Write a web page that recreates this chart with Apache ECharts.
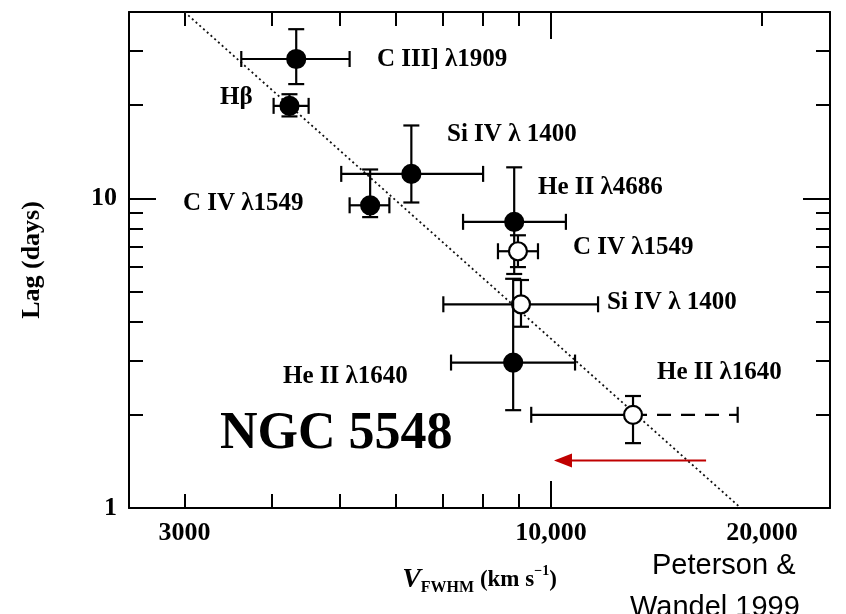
<!DOCTYPE html>
<html><head><meta charset="utf-8">
<script src="https://cdn.jsdelivr.net/npm/echarts@6/dist/echarts.min.js"></script>
<style>html,body{margin:0;padding:0;background:#fff}#c{width:846px;height:614px}</style>
</head><body><div id="c"></div>
<script>
// ---- data ----
const lineNames = ['C III] λ1909', 'Hβ', 'Si IV λ 1400', 'C IV λ1549', 'He II λ4686', 'C IV λ1549', 'Si IV λ 1400', 'He II λ1640', 'He II λ1640'];
const vFWHM   = [4330, 4235, 6320, 5520, 8860, 8970, 9060, 8830, 13090];
const vLow    = [3615, 4020, 5020, 5160, 7490, 8400, 7020, 7200, 9370];
const vHigh   = [5160, 4510, 8000, 5880, 10500, 9580, 11670, 10820, 18460];
const lag     = [28.2, 19.9, 12.0, 9.5, 8.4, 6.75, 4.55, 2.95, 2.0];
const lagLow  = [23.4, 18.4, 9.7, 8.7, 5.7, 6.0, 3.85, 2.07, 1.62];
const lagHigh = [35.2, 21.7, 17.2, 12.4, 12.6, 7.6, 5.45, 5.5, 2.3];
const filled  = [1, 1, 1, 1, 1, 0, 0, 1, 0];
const dashedRight = [0, 0, 0, 0, 0, 0, 0, 0, 1];

const fitV = [3000, 18650];
const fitLag = [40, 1];
const arrowV = [16640, 10400];
const arrowLag = [1.424, 1.424];

const xMinorTicksBottom = [3000, 4000, 5000, 6000, 7000, 8000, 9000];
const xMinorTicksTop = [3000, 4000, 5000, 6000, 7000, 8000, 9000, 20000];
const xMajorTicks = [10000];
const xTickLabels = [3000, 10000, 20000];
const yMinorTicks = [2, 3, 4, 5, 6, 7, 8, 9, 20, 30];
const yMajorTicks = [10];
const yTickLabels = [1, 10];

// ---- layout (pixels) for annotation texts ----
const labelPos = [[377, 60], [220, 98], [447, 135], [183, 204], [538, 188], [573, 248], [607, 303], [283, 377], [657, 373]];

const chart = echarts.init(document.getElementById('c'), null, {renderer: 'canvas'});
const serif = '"Liberation Serif", "Times New Roman", serif';
const black = '#000';

function xAxisDef(position, ticks, len, showLine, extra) {
  return Object.assign({
    type: 'log', logBase: 10, min: 2500, max: 25000, gridIndex: 0, position: position,
    axisLine: {show: showLine, onZero: false, lineStyle: {color: black, width: 2}},
    axisTick: {show: true, inside: true, length: len, customValues: ticks, lineStyle: {color: black, width: 2}},
    axisLabel: {show: false},
    splitLine: {show: false}, minorTick: {show: false}
  }, extra || {});
}
function yAxisDef(position, ticks, len, showLine, extra) {
  return Object.assign({
    type: 'log', logBase: 10, min: 1, max: 40, gridIndex: 0, position: position,
    axisLine: {show: showLine, onZero: false, lineStyle: {color: black, width: 2}},
    axisTick: {show: true, inside: true, length: len, customValues: ticks, lineStyle: {color: black, width: 2}},
    axisLabel: {show: false},
    splitLine: {show: false}, minorTick: {show: false}
  }, extra || {});
}

const errData = vFWHM.map((v, i) => [v, lag[i], vLow[i], vHigh[i], lagLow[i], lagHigh[i], filled[i], dashedRight[i]]);

const graphics = lineNames.map((t, i) => ({
  type: 'text', x: labelPos[i][0], y: labelPos[i][1], z: 10,
  style: {text: t, font: 'bold 25px ' + serif, fill: black, textAlign: 'left', textVerticalAlign: 'middle'}
}));
graphics.push({type: 'text', x: 220, y: 435, z: 10,
  style: {text: 'NGC 5548', font: 'bold 52px ' + serif, fill: black, textAlign: 'left', textVerticalAlign: 'middle'}});
graphics.push({type: 'text', x: 652, y: 566, z: 10,
  style: {text: 'Peterson &', font: '29px "Liberation Sans", Arial, sans-serif', fill: black, textAlign: 'left', textVerticalAlign: 'middle'}});
graphics.push({type: 'text', x: 630, y: 608, z: 10,
  style: {text: 'Wandel 1999', font: '29px "Liberation Sans", Arial, sans-serif', fill: black, textAlign: 'left', textVerticalAlign: 'middle'}});

const option = {
  animation: false,
  backgroundColor: '#fff',
  grid: {left: 129, top: 12, width: 701, height: 496, containLabel: false, outerBoundsMode: 'none', show: false},
  xAxis: [
    xAxisDef('bottom', xMinorTicksBottom, 14, true, {
      axisLabel: {show: true, customValues: xTickLabels, margin: 12, color: black,
        fontFamily: serif, fontWeight: 'bold', fontSize: 26,
        formatter: v => (v >= 10000 ? Number(v).toLocaleString('en-US') : String(Math.round(v)))},
      name: '{v|V}{s|FWHM}{t| (km s}{p|−1}{t|)}',
      nameLocation: 'middle', nameGap: 56,
      nameTextStyle: {color: black, rich: {
        v: {fontFamily: serif, fontStyle: 'italic', fontWeight: 'bold', fontSize: 28, color: black},
        s: {fontFamily: serif, fontWeight: 'bold', fontSize: 16, color: black, verticalAlign: 'bottom', padding: [16, 0, 0, 0]},
        t: {fontFamily: serif, fontWeight: 'bold', fontSize: 23, color: black},
        p: {fontFamily: serif, fontWeight: 'bold', fontSize: 14, color: black, verticalAlign: 'top'}
      }}
    }),
    xAxisDef('bottom', xMajorTicks, 27, false),
    xAxisDef('top', xMinorTicksTop, 14, true),
    xAxisDef('top', xMajorTicks, 27, false)
  ],
  yAxis: [
    yAxisDef('left', yMinorTicks, 14, true, {
      axisLabel: {show: true, customValues: yTickLabels, margin: 12, color: black,
        fontFamily: serif, fontWeight: 'bold', fontSize: 26},
      name: 'Lag (days)', nameLocation: 'middle', nameGap: 84, nameRotate: 90,
      nameTextStyle: {color: black, fontFamily: serif, fontWeight: 'bold', fontSize: 26}
    }),
    yAxisDef('left', yMajorTicks, 27, false),
    yAxisDef('right', yMinorTicks, 14, true),
    yAxisDef('right', yMajorTicks, 27, false)
  ],
  graphic: graphics,
  series: [
    {
      type: 'line', xAxisIndex: 0, yAxisIndex: 0, z: 1, silent: true,
      data: fitV.map((v, i) => [v, fitLag[i]]),
      showSymbol: false, symbol: 'none',
      lineStyle: {color: '#111', width: 1.8, type: [2, 3]}
    },
    {
      type: 'custom', xAxisIndex: 0, yAxisIndex: 0, z: 3, silent: true,
      data: errData,
      encode: {x: 0, y: 1},
      renderItem: function (params, api) {
        const x = api.value(0), y = api.value(1);
        const c = api.coord([x, y]);
        const l = api.coord([api.value(2), y]);
        const h = api.coord([api.value(3), y]);
        const b = api.coord([x, api.value(4)]);
        const t = api.coord([x, api.value(5)]);
        const isFilled = api.value(6) === 1;
        const dashR = api.value(7) === 1;
        const cap = 8, r = 9;
        const st = {stroke: black, lineWidth: 2.2, fill: null};
        const ln = (x1, y1, x2, y2, extra) => ({type: 'line', shape: {x1, y1, x2, y2}, style: Object.assign({}, st, extra || {})});
        return {type: 'group', children: [
          ln(l[0], c[1], c[0], c[1]),
          ln(c[0], c[1], h[0], h[1], dashR ? {lineDash: [14, 10]} : null),
          ln(l[0], c[1] - cap, l[0], c[1] + cap),
          ln(h[0], c[1] - cap, h[0], c[1] + cap),
          ln(c[0], b[1], c[0], t[1]),
          ln(c[0] - cap, b[1], c[0] + cap, b[1]),
          ln(c[0] - cap, t[1], c[0] + cap, t[1]),
          {type: 'circle', shape: {cx: c[0], cy: c[1], r: r},
           style: {fill: isFilled ? black : '#fff', stroke: black, lineWidth: 2.2}}
        ]};
      }
    },
    {
      type: 'line', xAxisIndex: 0, yAxisIndex: 0, z: 4, silent: true,
      data: [
        {value: [arrowV[0], arrowLag[0]], symbol: 'none'},
        {value: [arrowV[1], arrowLag[1]], symbol: 'triangle', symbolSize: [14, 18], symbolRotate: 90}
      ],
      showSymbol: true, showAllSymbol: true,
      itemStyle: {color: '#c00000'},
      lineStyle: {color: '#c00000', width: 2}
    }
  ]
};
chart.setOption(option);
</script>
</body></html>
